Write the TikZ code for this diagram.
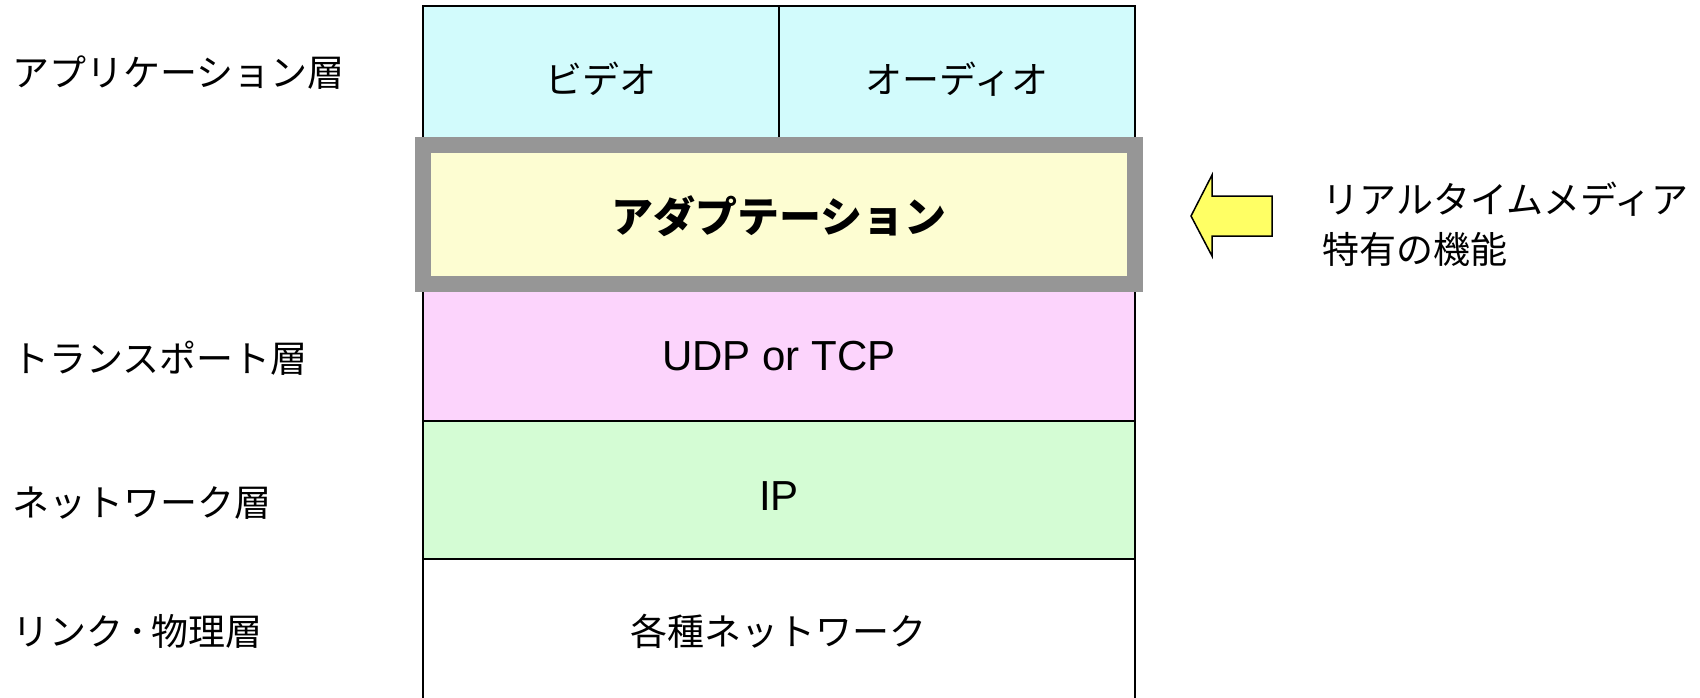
\documentclass[tikz,border=0pt]{standalone}
\usepackage{fontspec}
\setmainfont{Liberation Sans}
\newfontfamily\jp{Noto Sans CJK JP}
\definecolor{cyanfill}{RGB}{210,251,252}
\definecolor{yellowfill}{RGB}{253,253,210}
\definecolor{pinkfill}{RGB}{252,212,252}
\definecolor{greenfill}{RGB}{212,252,212}
\definecolor{graybord}{RGB}{150,150,150}
\definecolor{arrowfill}{RGB}{255,255,100}
\begin{document}
\begin{tikzpicture}[x=0.5pt,y=-0.5pt,
  layer/.style={draw=black,line width=1pt,inner sep=0pt,outer sep=0pt,anchor=north west},
  jptext/.style={inner sep=0pt,font=\jp\fontsize{18.5pt}{25pt}\selectfont},
  lattext/.style={inner sep=0pt,font=\fontsize{21pt}{25pt}\selectfont},
  sidelabel/.style={jptext,anchor=west}]
\useasboundingbox (0,0) rectangle (1700,697);
\clip (0,0) rectangle (1700,697);
% application layer cells
\node[layer,fill=cyanfill,minimum width=178pt,minimum height=69.5pt] (video) at (423,6) {};
\node[layer,fill=cyanfill,minimum width=178pt,minimum height=69.5pt] (audio) at (779,6) {};
% transport
\node[layer,fill=pinkfill,minimum width=356pt,minimum height=138pt] (transport) at (423,145) {};
% network
\node[layer,fill=greenfill,minimum width=356pt,minimum height=69pt] (network) at (423,421) {};
% link
\node[layer,fill=white,minimum width=356pt,minimum height=80pt] (link) at (423,559) {};
% adaptation
\node[draw=graybord,line width=8pt,fill=yellowfill,inner sep=0pt,outer sep=0pt,anchor=north west,
  minimum width=356pt,minimum height=69.5pt] (adapt) at (423,145) {};
% texts in stack
\node[jptext] (tvideo) at (601,79) {ビデオ};
\node[jptext] (taudio) at (957,79) {オーディオ};
\node[inner sep=0pt,font=\jp\bfseries\fontsize{21pt}{25pt}\selectfont] (tadapt) at (779,216) {アダプテーション};
\node[lattext] (ttrans) at (779,356) {UDP or TCP};
\node[lattext] (tnet) at (779,496) {IP};
\node[jptext] (tlink) at (778,631) {各種ネットワーク};
% side labels
\node[sidelabel] (lapp) at (12,73) {アプリケーション層};
\node[sidelabel] (ltrans) at (12,358) {トランスポート層};
\node[sidelabel] (lnet) at (12,503) {ネットワーク層};
\node[sidelabel] (llink) at (12,631) {リンク\kern2.5pt･\kern2.5pt物理層};
% block arrow
\draw[fill=arrowfill,line width=0.75pt,line join=miter]
  (1191,216) -- (1212,175) -- (1212,196) -- (1272,196) -- (1272,236)
  -- (1212,236) -- (1212,256) -- cycle;
\node[jptext,anchor=west,align=left] (rt) at (1322,224) {リアルタイムメディア\\特有の機能};
\end{tikzpicture}
\end{document}
